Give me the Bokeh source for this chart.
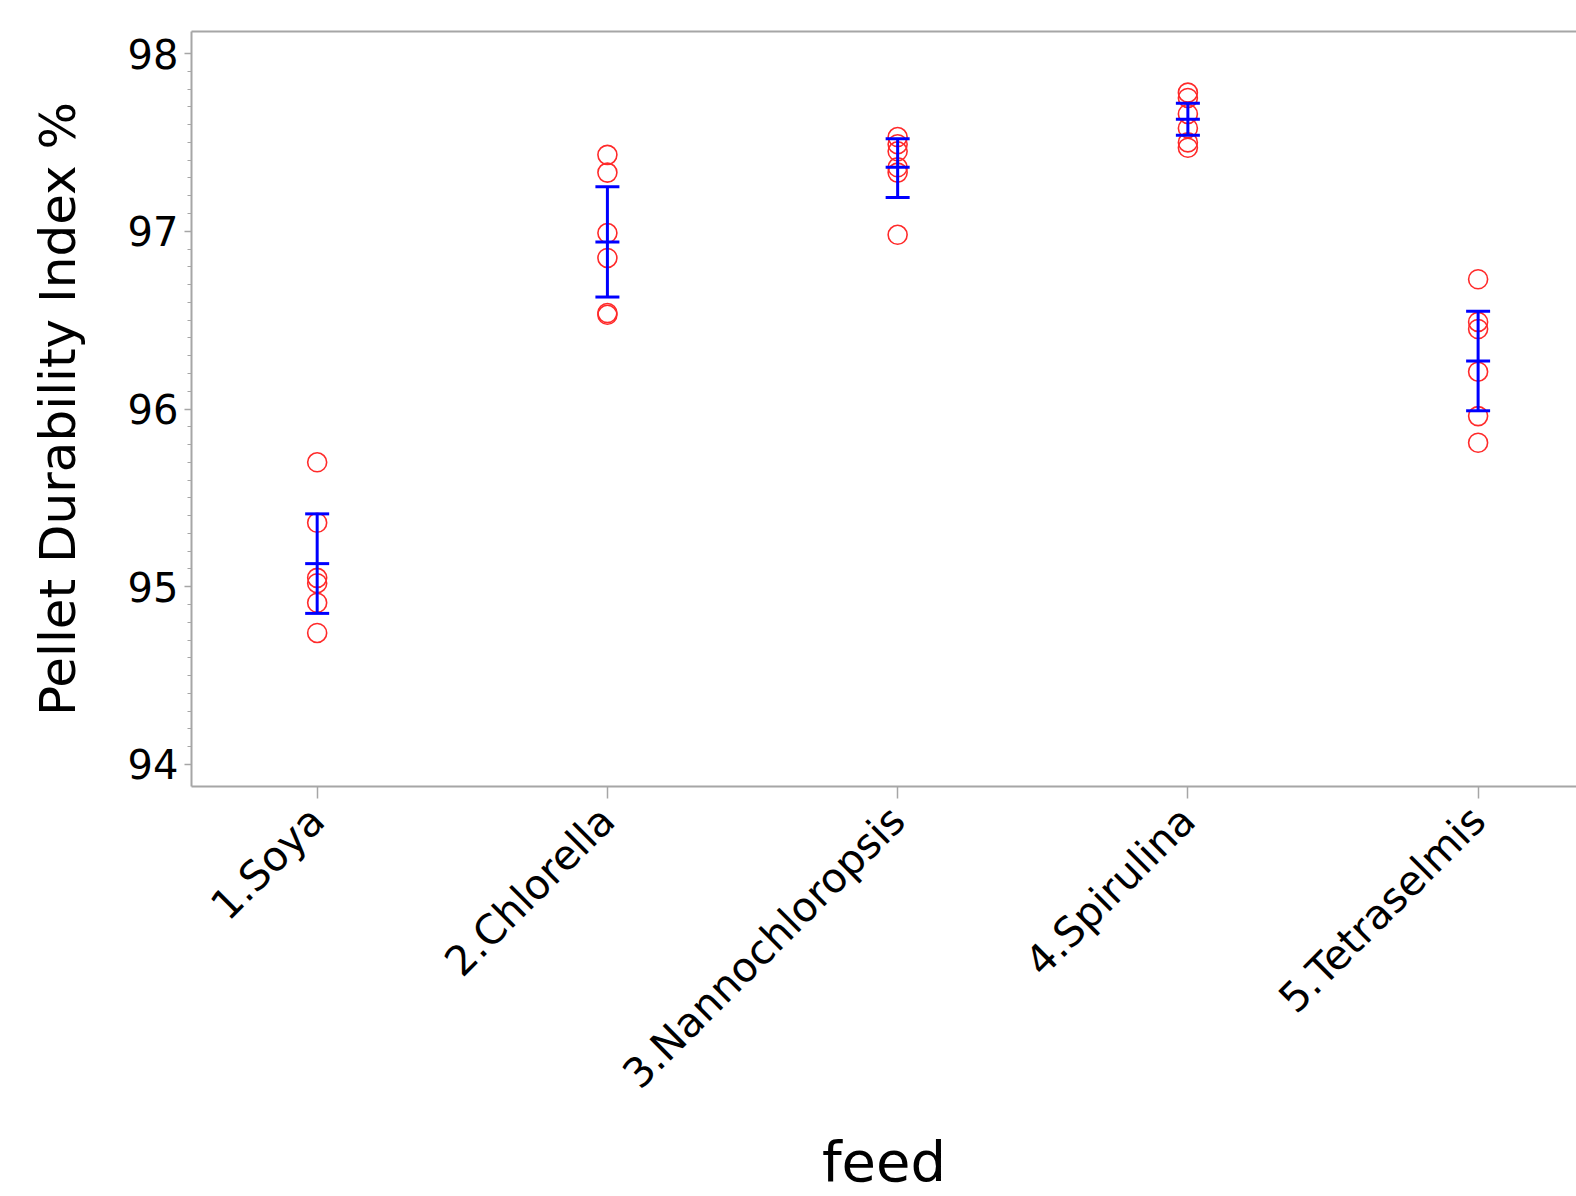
import numpy as np
from bokeh.plotting import figure
from bokeh.models import Range1d, FixedTicker, LinearAxis
from bokeh.embed import file_html
from bokeh.resources import INLINE

# ---- data ----
feeds = ["1.Soya", "2.Chlorella", "3.Nannochloropsis", "4.Spirulina", "5.Tetraselmis"]
soya = [95.70, 95.36, 95.05, 95.02, 94.91, 94.74]
chlorella = [97.43, 97.33, 96.99, 96.85, 96.54, 96.53]
nannochloropsis = [97.53, 97.49, 97.45, 97.36, 97.33, 96.98]
spirulina = [97.78, 97.75, 97.66, 97.58, 97.50, 97.47]
tetraselmis = [96.73, 96.49, 96.45, 96.21, 95.96, 95.81]
means = [95.13, 96.94, 97.36, 97.63, 96.27]
lower = [94.85, 96.63, 97.19, 97.54, 95.99]
upper = [95.41, 97.25, 97.52, 97.72, 96.55]
y_ticks = [94, 95, 96, 97, 98]
y_minor = [round(94 + i * 0.1, 1) for i in range(41)]

groups = [soya, chlorella, nannochloropsis, spirulina, tetraselmis]
pos = list(range(1, len(feeds) + 1))
pts_x, pts_y = [], []
for i, g in enumerate(groups):
    pts_x += [pos[i]] * len(g)
    pts_y += g

FONT = "DejaVu Sans"
GRID = "#e8e8e8"
AXIS = "#a6a6a6"

p = figure(width=1576, height=1196, output_backend="svg", toolbar_location=None,
           x_range=Range1d(0.567, 5.339), y_range=Range1d(93.876, 98.124),
           min_border_left=191, min_border_top=31, min_border_right=0, min_border_bottom=410,
           x_axis_type=None, y_axis_type=None)
p.outline_line_color = None
p.background_fill_color = "white"

# axes
xaxis = LinearAxis(ticker=FixedTicker(ticks=pos))
xaxis.major_label_overrides = {pos[i]: feeds[i] for i in range(len(feeds))}
xaxis.major_label_orientation = np.pi / 4
xaxis.major_label_text_font = FONT
xaxis.major_label_text_font_size = "41px"
xaxis.major_label_text_color = "black"
xaxis.major_tick_out = 12
xaxis.major_tick_in = 0
xaxis.minor_tick_out = 0
xaxis.major_tick_line_color = AXIS
xaxis.major_tick_line_width = 1.5
xaxis.axis_line_color = AXIS
xaxis.axis_line_width = 2
xaxis.major_label_standoff = 15
xaxis.axis_label = "feed"
xaxis.axis_label_text_font = FONT
xaxis.axis_label_text_font_size = "56px"
xaxis.axis_label_text_font_style = "normal"
xaxis.axis_label_text_color = "black"
xaxis.axis_label_standoff = 11
p.add_layout(xaxis, "below")

yaxis = LinearAxis(ticker=FixedTicker(ticks=y_ticks, minor_ticks=y_minor))
yaxis.axis_label = "Pellet Durability Index %"
yaxis.axis_label_text_font = FONT
yaxis.axis_label_text_font_size = "50px"
yaxis.axis_label_text_font_style = "normal"
yaxis.axis_label_text_color = "black"
yaxis.axis_label_standoff = 38
yaxis.major_label_text_font = FONT
yaxis.major_label_text_font_size = "40px"
yaxis.major_label_text_color = "black"
yaxis.major_tick_out = 7
yaxis.major_tick_in = 0
yaxis.minor_tick_out = 4
yaxis.minor_tick_in = 0
yaxis.major_tick_line_color = AXIS
yaxis.minor_tick_line_color = AXIS
yaxis.major_tick_line_width = 1.5
yaxis.axis_line_color = AXIS
yaxis.axis_line_width = 2
yaxis.major_label_standoff = 6
p.add_layout(yaxis, "left")

top = LinearAxis(ticker=FixedTicker(ticks=[]))
top.major_tick_out = 0
top.minor_tick_out = 0
top.major_label_text_font_size = "0px"
top.axis_line_color = AXIS
top.axis_line_width = 2
p.add_layout(top, "above")

# grids
p.xgrid.ticker = FixedTicker(ticks=pos)
p.ygrid.ticker = FixedTicker(ticks=y_ticks)
p.xgrid.grid_line_color = GRID
p.ygrid.grid_line_color = GRID
p.xgrid.grid_line_width = 1.5
p.ygrid.grid_line_width = 1.5

# points
p.scatter(x=pts_x, y=pts_y, marker="circle", size=19, fill_color=None,
          line_color="#ff2a2a", line_width=1.6)

# error bars
p.segment(x0=pos, y0=lower, x1=pos, y1=upper, line_color="#0000ff", line_width=3)
for arr in (lower, upper, means):
    p.scatter(x=pos, y=arr, marker="dash", size=24, line_color="#0000ff", line_width=3)

open("out.html", "w").write(file_html(p, INLINE))
